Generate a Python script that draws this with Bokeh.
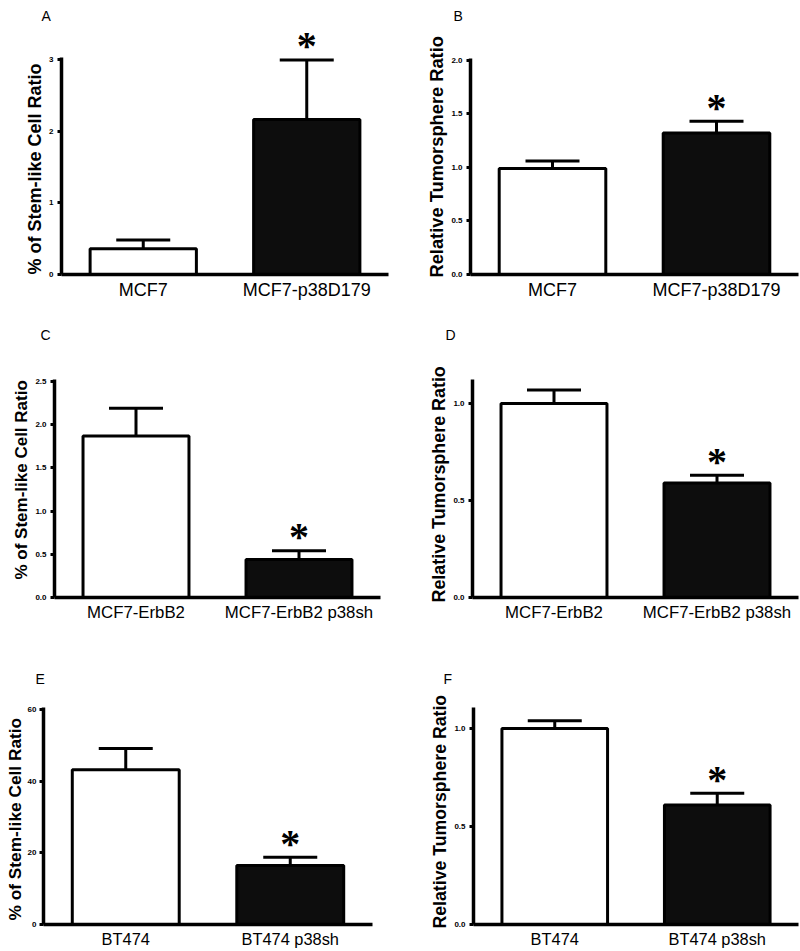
from bokeh.plotting import figure
from bokeh.layouts import column, row
from bokeh.models import (ColumnDataSource, FactorRange, Range1d, FixedTicker,
                          PrintfTickFormatter, Whisker, TeeHead, LabelSet, Title)
from bokeh.embed import file_html
from bokeh.resources import INLINE

FONT = "Liberation Sans"

# ---------------- data ----------------
a_groups = ["MCF7", "MCF7-p38D179"]
a_means = [0.36, 2.16]
a_errors = [0.12, 0.83]
a_significant = [False, True]
a_ticks = [0, 1, 2, 3]

b_groups = ["MCF7", "MCF7-p38D179"]
b_means = [0.99, 1.32]
b_errors = [0.07, 0.11]
b_significant = [False, True]
b_ticks = [0.0, 0.5, 1.0, 1.5, 2.0]

c_groups = ["MCF7-ErbB2", "MCF7-ErbB2 p38sh"]
c_means = [1.87, 0.44]
c_errors = [0.32, 0.10]
c_significant = [False, True]
c_ticks = [0.0, 0.5, 1.0, 1.5, 2.0, 2.5]

d_groups = ["MCF7-ErbB2", "MCF7-ErbB2 p38sh"]
d_means = [1.00, 0.59]
d_errors = [0.07, 0.04]
d_significant = [False, True]
d_ticks = [0.0, 0.5, 1.0]

e_groups = ["BT474", "BT474 p38sh"]
e_means = [43.2, 16.5]
e_errors = [5.9, 2.3]
e_significant = [False, True]
e_ticks = [0, 20, 40, 60]

f_groups = ["BT474", "BT474 p38sh"]
f_means = [1.00, 0.61]
f_errors = [0.04, 0.06]
f_significant = [False, True]
f_ticks = [0.0, 0.5, 1.0]

stem_label = "% of Stem-like Cell Ratio"
sphere_label = "Relative Tumorsphere Ratio"
bar_fills = ["white", "#0d0d0d"]


def panel(letter, groups, means, errors, significant, ticks, tick_fmt, ylabel,
          y_end, axis_top, width, height, left, right, top, bottom,
          letter_offset, label_offset, ylabel_size, xlabel_size,
          tick_label_standoff=4, label_standoff=3):
    p = figure(width=width, height=height, x_range=FactorRange(*groups),
               y_range=Range1d(0, y_end), output_backend="svg",
               toolbar_location=None, min_border_left=left,
               min_border_right=right, min_border_top=top,
               min_border_bottom=bottom)
    p.outline_line_color = None
    p.xgrid.visible = False
    p.ygrid.visible = False
    p.background_fill_color = "white"
    p.border_fill_color = "white"

    # panel letter
    p.title.text = letter
    p.title.align = "left"
    p.title.offset = letter_offset
    p.title.text_font = FONT
    p.title.text_font_size = "14px"
    p.title.text_font_style = "normal"
    p.title.text_color = "black"
    p.title.standoff = 10

    upper = [m + e for m, e in zip(means, errors)]
    src = ColumnDataSource(dict(group=groups, mean=means, upper=upper,
                                fill=bar_fills[:len(groups)]))
    whisk = Whisker(base="group", lower="mean", upper="upper", source=src,
                    line_width=3, line_color="black", lower_head=None,
                    upper_head=TeeHead(size=54, line_width=3, line_color="black"),
                    level="overlay")
    p.add_layout(whisk)
    p.vbar(x="group", top="mean", width=0.65, source=src, fill_color="fill",
           line_color="black", line_width=3)

    sx = [g for g, s in zip(groups, significant) if s]
    sy = [u for u, s in zip(upper, significant) if s]
    star_src = ColumnDataSource(dict(x=sx, y=sy, t=["*"] * len(sx)))
    p.add_layout(LabelSet(x="x", y="y", text="t", source=star_src,
                          text_align="center", text_baseline="middle",
                          text_font=FONT, text_font_style="bold",
                          text_font_size="40px", text_color="black",
                          y_offset=14))

    ya = p.yaxis[0]
    ya.ticker = FixedTicker(ticks=ticks)
    ya.formatter = PrintfTickFormatter(format=tick_fmt)
    ya.bounds = (0, axis_top)
    ya.axis_line_width = 3.5
    ya.axis_line_color = "black"
    ya.major_tick_line_width = 3
    ya.major_tick_line_color = "black"
    ya.major_tick_out = 4
    ya.major_tick_in = 0
    ya.minor_tick_line_color = None
    ya.major_label_text_font = FONT
    ya.major_label_text_font_size = "8px"
    ya.major_label_text_font_style = "bold"
    ya.major_label_text_color = "black"
    ya.major_label_standoff = tick_label_standoff

    # y-axis title, starting where the reference label starts
    p.add_layout(Title(text=ylabel, align="left", offset=label_offset,
                       text_font=FONT, text_font_size=ylabel_size,
                       text_font_style="bold", text_color="black",
                       standoff=label_standoff), "left")

    xa = p.xaxis[0]
    xa.axis_line_width = 3.5
    xa.axis_line_color = "black"
    xa.major_tick_line_color = None
    xa.major_tick_out = 0
    xa.major_tick_in = 0
    xa.minor_tick_line_color = None
    xa.major_label_text_font = FONT
    xa.major_label_text_font_size = xlabel_size
    xa.major_label_text_color = "black"
    xa.major_label_standoff = 5
    return p


# row 1: frame top 26, bottom 274
pA = panel("A", a_groups, a_means, a_errors, a_significant, a_ticks, "%d",
           stem_label, 3.429, 3.03, 400, 305, 61, 12, 26, 31, -20, 0,
           "18px", "18px")
pB = panel("B", b_groups, b_means, b_errors, b_significant, b_ticks, "%.1f",
           sphere_label, 2.296, 2.02, 400, 305, 70, 2, 26, 31, -17, -3,
           "18.3px", "18px")
# row 2: frame top 347, bottom 597
pC = panel("C", c_groups, c_means, c_errors, c_significant, c_ticks, "%.1f",
           stem_label, 2.894, 2.523, 400, 320, 54, 20, 42, 28, -14, 18,
           "17px", "16.8px")
pD = panel("D", d_groups, d_means, d_errors, d_significant, d_ticks, "%.1f",
           sphere_label, 1.289, 1.124, 400, 320, 72, 2, 42, 28, -27, -5,
           "17.9px", "16.8px")
# row 3: frame top 691, bottom 924
pE = panel("E", e_groups, e_means, e_errors, e_significant, e_ticks, "%d",
           stem_label, 65.03, 60.56, 400, 326, 43, 28, 66, 27, -8, 4,
           "17.3px", "16.4px", tick_label_standoff=3, label_standoff=0)
pF = panel("F", f_groups, f_means, f_errors, f_significant, f_ticks, "%.1f",
           sphere_label, 1.189, 1.107, 400, 326, 73, 2, 66, 27, -30, -4,
           "17.7px", "16.4px")

layout = column(row(pA, pB), row(pC, pD), row(pE, pF))
open("out.html", "w").write(file_html(layout, INLINE))
